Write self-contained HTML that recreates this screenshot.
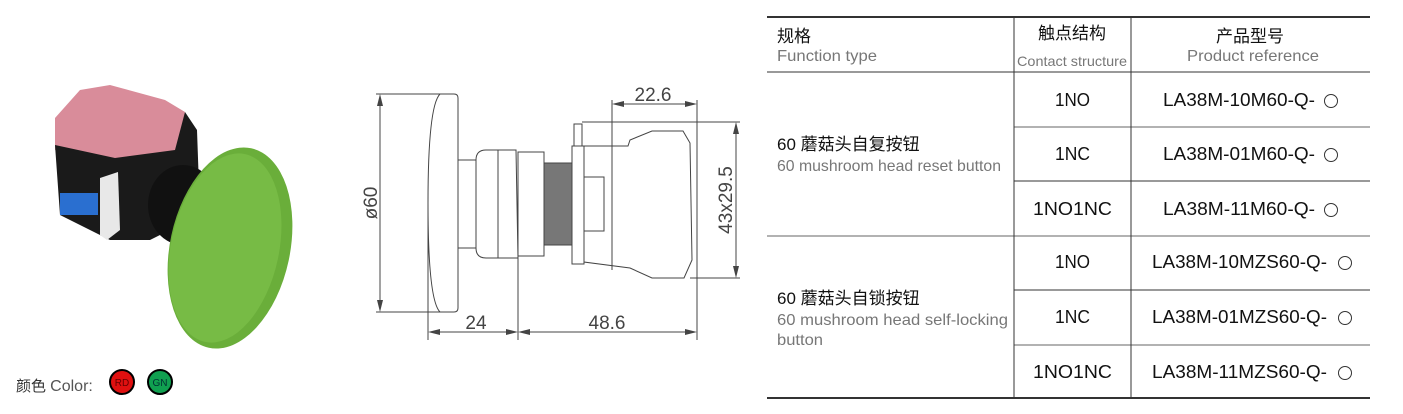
<!DOCTYPE html>
<html><head><meta charset="utf-8"><style>
body{margin:0;background:#fff;width:1403px;height:414px;overflow:hidden}
svg{position:absolute;left:0;top:0}
text{font-family:"Liberation Sans","Noto Sans CJK SC",sans-serif}
</style></head><body>
<svg width="1403" height="414" viewBox="0 0 1403 414">
<g>
<polygon points="55,118 80,90 110,85 165,100 185,112 178,150 115,160 55,150" fill="#d98c9a"/>
<polygon points="55,145 115,158 175,150 185,112 197,130 200,215 150,240 110,240 60,215" fill="#1a1a1a"/>
<rect x="60" y="193" width="38" height="22" fill="#2a6fd0"/>
<polygon points="100,178 118,172 120,230 107,240 100,235" fill="#e8e8e8"/>
<ellipse cx="183" cy="205" rx="35" ry="40" fill="#111"/>
<ellipse cx="230" cy="248" rx="60" ry="102" transform="rotate(12 230 248)" fill="#6aae3a"/>
<ellipse cx="225" cy="248" rx="54" ry="96" transform="rotate(12 225 248)" fill="#77bb45"/>
</g>
<text x="16" y="391" font-size="15" fill="#333">颜色 <tspan fill="#555" font-size="16">Color:</tspan></text>
<circle cx="122" cy="382" r="12" fill="#e01010" stroke="#000" stroke-width="2"/>
<text x="122" y="386" font-size="10" fill="#600" text-anchor="middle">RD</text>
<circle cx="160" cy="382" r="12" fill="#10a050" stroke="#000" stroke-width="2"/>
<text x="160" y="386" font-size="10" fill="#033" text-anchor="middle">GN</text>
<g stroke="#444" stroke-width="1" fill="none">
<line x1="376" y1="94" x2="440" y2="94"/><line x1="376" y1="312" x2="440" y2="312"/>
<line x1="380" y1="96" x2="380" y2="310"/>
<path d="M440,94 L454,94 Q458,94 458,98 L458,308 Q458,312 454,312 L440,312 Q428,300 428,203 Q428,106 440,94Z"/>
<line x1="428" y1="203" x2="428" y2="340"/>
<rect x="458" y="160" width="18" height="88"/>
<path d="M476,160 Q476,150 486,150 L516,150 L518,258 L486,258 Q476,258 476,248Z"/>
<line x1="498" y1="150" x2="498" y2="258"/>
<rect x="518" y="152" width="26" height="104"/>
<line x1="518" y1="258" x2="518" y2="340"/>
<rect x="544" y="163" width="28" height="82" fill="#777"/>
<rect x="572" y="146" width="12" height="118"/>
<rect x="574" y="124" width="8" height="22"/>
<rect x="584" y="177" width="20" height="54"/>
<path d="M584,146 L628,146 L630,140 L652,131 L683,131 L690,143 L692,260 L684,278 L652,278 L630,268 L584,262Z"/>
<line x1="612" y1="100" x2="612" y2="270"/>
<line x1="697" y1="100" x2="697" y2="340"/>
<line x1="582" y1="122" x2="740" y2="122"/>
<line x1="690" y1="278" x2="740" y2="278"/>
<line x1="736" y1="124" x2="736" y2="276"/>
<line x1="614" y1="104" x2="695" y2="104"/>
<line x1="430" y1="332" x2="516" y2="332"/><line x1="520" y1="332" x2="695" y2="332"/>
</g>
<g fill="#444">
<polygon points="380,94 377,106 383,106"/><polygon points="380,312 377,300 383,300"/>
<polygon points="612,104 624,101 624,107"/><polygon points="697,104 685,101 685,107"/>
<polygon points="736,122 733,134 739,134"/><polygon points="736,278 733,266 739,266"/>
<polygon points="428,332 440,329 440,335"/><polygon points="518,332 506,329 506,335"/>
<polygon points="518,332 530,329 530,335"/><polygon points="697,332 685,329 685,335"/>
</g>
<g font-size="19" fill="#444" font-family="Liberation Sans">
<text x="653" y="101" text-anchor="middle">22.6</text>
<text x="476" y="329" text-anchor="middle">24</text>
<text x="607" y="329" text-anchor="middle">48.6</text>
<text transform="translate(377,203) rotate(-90)" text-anchor="middle">ø60</text>
<text transform="translate(732,200) rotate(-90)" text-anchor="middle">43x29.5</text>
</g>
<g stroke="#333">
<line x1="767" y1="17" x2="1370" y2="17" stroke-width="2"/>
<line x1="767" y1="72" x2="1370" y2="72"/>
<line x1="1014" y1="127" x2="1370" y2="127" stroke="#666"/>
<line x1="1014" y1="181" x2="1370" y2="181"/>
<line x1="767" y1="236" x2="1370" y2="236" stroke="#666"/>
<line x1="1014" y1="290" x2="1370" y2="290"/>
<line x1="1014" y1="345" x2="1370" y2="345" stroke="#666"/>
<line x1="767" y1="398" x2="1370" y2="398" stroke-width="2"/>
<line x1="1014" y1="17" x2="1014" y2="398"/>
<line x1="1131" y1="17" x2="1131" y2="398"/>
</g>
<g font-size="17" fill="#111">
<text x="777" y="42">规格</text>
<text x="1072" y="39" text-anchor="middle">触点结构</text>
<text x="1250" y="42" text-anchor="middle">产品型号</text>
<text x="777" y="150">60 蘑菇头自复按钮</text>
<text x="777" y="304">60 蘑菇头自锁按钮</text>
</g>
<g font-size="16" fill="#777">
<text x="777" y="61" textLength="100" lengthAdjust="spacingAndGlyphs">Function type</text>
<text x="1017" y="66" textLength="110" font-size="14" lengthAdjust="spacingAndGlyphs">Contact structure</text>
<text x="1187" y="61" textLength="132" lengthAdjust="spacingAndGlyphs">Product reference</text>
<text x="777" y="171" textLength="224" lengthAdjust="spacingAndGlyphs">60 mushroom head reset button</text>
<text x="777" y="325" textLength="231" lengthAdjust="spacingAndGlyphs">60 mushroom head self-locking</text>
<text x="777" y="345" textLength="46" lengthAdjust="spacingAndGlyphs">button</text>
</g>
<g font-size="18" fill="#111">
<text x="1055" y="106" textLength="35" lengthAdjust="spacingAndGlyphs">1NO</text><text x="1055" y="160" textLength="35" lengthAdjust="spacingAndGlyphs">1NC</text><text x="1033" y="215" textLength="79" lengthAdjust="spacingAndGlyphs">1NO1NC</text>
<text x="1055" y="268" textLength="35" lengthAdjust="spacingAndGlyphs">1NO</text><text x="1055" y="323" textLength="35" lengthAdjust="spacingAndGlyphs">1NC</text><text x="1033" y="378" textLength="79" lengthAdjust="spacingAndGlyphs">1NO1NC</text>
</g>
<g font-size="18" fill="#111">
<text x="1163" y="106" textLength="152" lengthAdjust="spacingAndGlyphs">LA38M-10M60-Q-</text><text x="1163" y="160" textLength="152" lengthAdjust="spacingAndGlyphs">LA38M-01M60-Q-</text><text x="1163" y="215" textLength="152" lengthAdjust="spacingAndGlyphs">LA38M-11M60-Q-</text>
<text x="1152" y="268" textLength="175" lengthAdjust="spacingAndGlyphs">LA38M-10MZS60-Q-</text><text x="1152" y="323" textLength="175" lengthAdjust="spacingAndGlyphs">LA38M-01MZS60-Q-</text><text x="1152" y="378" textLength="175" lengthAdjust="spacingAndGlyphs">LA38M-11MZS60-Q-</text>
</g>
<g fill="none" stroke="#333">
<circle cx="1331" cy="101" r="6.5"/><circle cx="1331" cy="155" r="6.5"/><circle cx="1331" cy="210" r="6.5"/>
<circle cx="1345" cy="263" r="6.5"/><circle cx="1345" cy="318" r="6.5"/><circle cx="1345" cy="373" r="6.5"/>
</g>
</svg>
</body></html>
